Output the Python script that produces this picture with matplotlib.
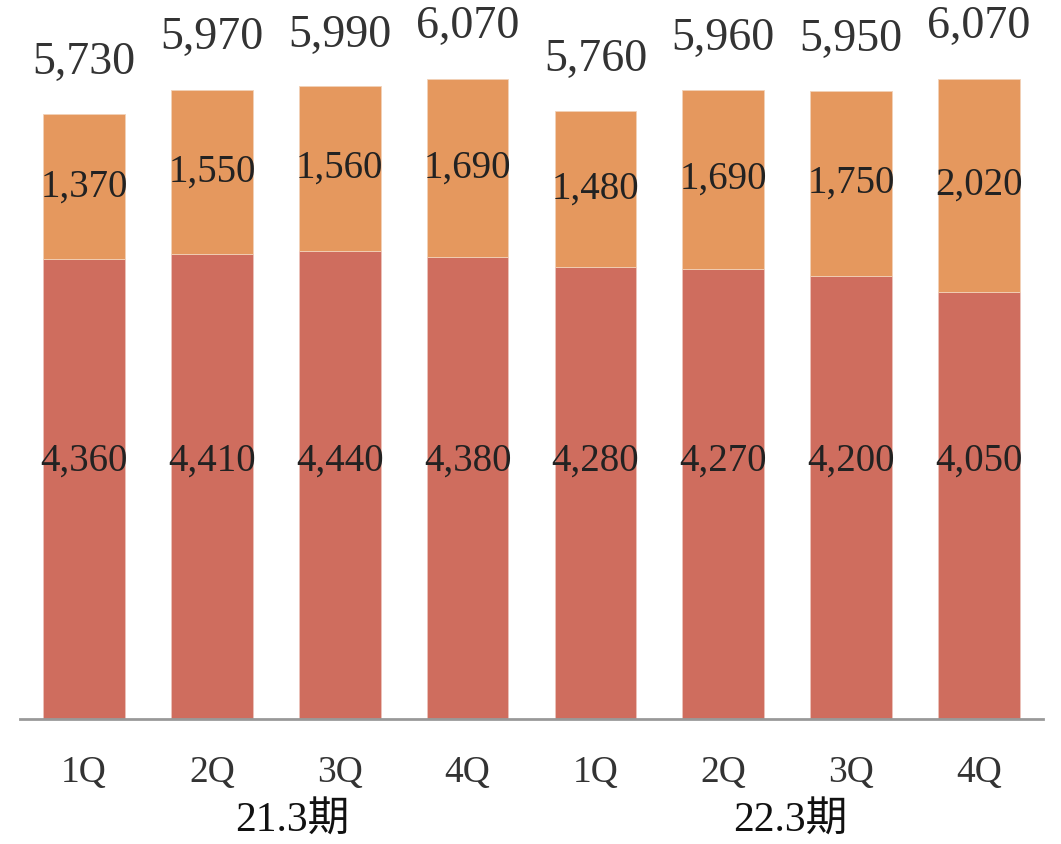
import matplotlib.pyplot as plt

# Data
quarters = ['1Q', '2Q', '3Q', '4Q', '1Q', '2Q', '3Q', '4Q']
lower = [4360, 4410, 4440, 4380, 4280, 4270, 4200, 4050]
upper = [1370, 1550, 1560, 1690, 1480, 1690, 1750, 2020]
totals = [5730, 5970, 5990, 6070, 5760, 5960, 5950, 6070]
periods = ['21.3期', '22.3期']

serif = ['Liberation Serif', 'Noto Sans CJK JP', 'DejaVu Serif']
plt.rcParams['font.family'] = serif

fig = plt.figure(figsize=(10.61, 8.44), dpi=100)
ax = fig.add_axes([20 / 1061, 125 / 844, 1023 / 1061, 719 / 844])

x = list(range(len(quarters)))
ax.bar(x, lower, width=0.64, color='#CF6D5E', edgecolor='#EBC3BB', linewidth=0.6)
ax.bar(x, upper, width=0.64, bottom=lower, color='#E5985E', edgecolor='#F2D2B8', linewidth=0.6)

ax.set_xlim(-0.5, 7.5)
ax.set_ylim(0, 6815)

for i in x:
    ax.text(i, 2440, f'{lower[i]:,}', ha='center', va='center', fontsize=28, color='#222222')
    ax.text(i, lower[i] + upper[i] / 2, f'{upper[i]:,}', ha='center', va='center',
            fontsize=28, color='#222222')
    ax.annotate(f'{totals[i]:,}', (i, totals[i]), xytext=(0, 37), textcoords='offset points',
                ha='center', va='center', fontsize=33, color='#333333')

# quarter labels and period labels
ax.set_xticks(x)
ax.set_xticklabels(quarters, fontsize=27, color='#333333')
ax.tick_params(axis='x', length=0, pad=26)
ax.set_yticks([])
ax.text(1.63, -0.143, periods[0], transform=ax.get_xaxis_transform(), ha='center', va='center',
        fontsize=30, color='#111111')
ax.text(5.52, -0.143, periods[1], transform=ax.get_xaxis_transform(), ha='center', va='center',
        fontsize=30, color='#111111')

for side in ['top', 'left', 'right']:
    ax.spines[side].set_visible(False)
ax.spines['bottom'].set_color('#999999')
ax.spines['bottom'].set_linewidth(2)

fig.savefig('out.png', dpi=100)
